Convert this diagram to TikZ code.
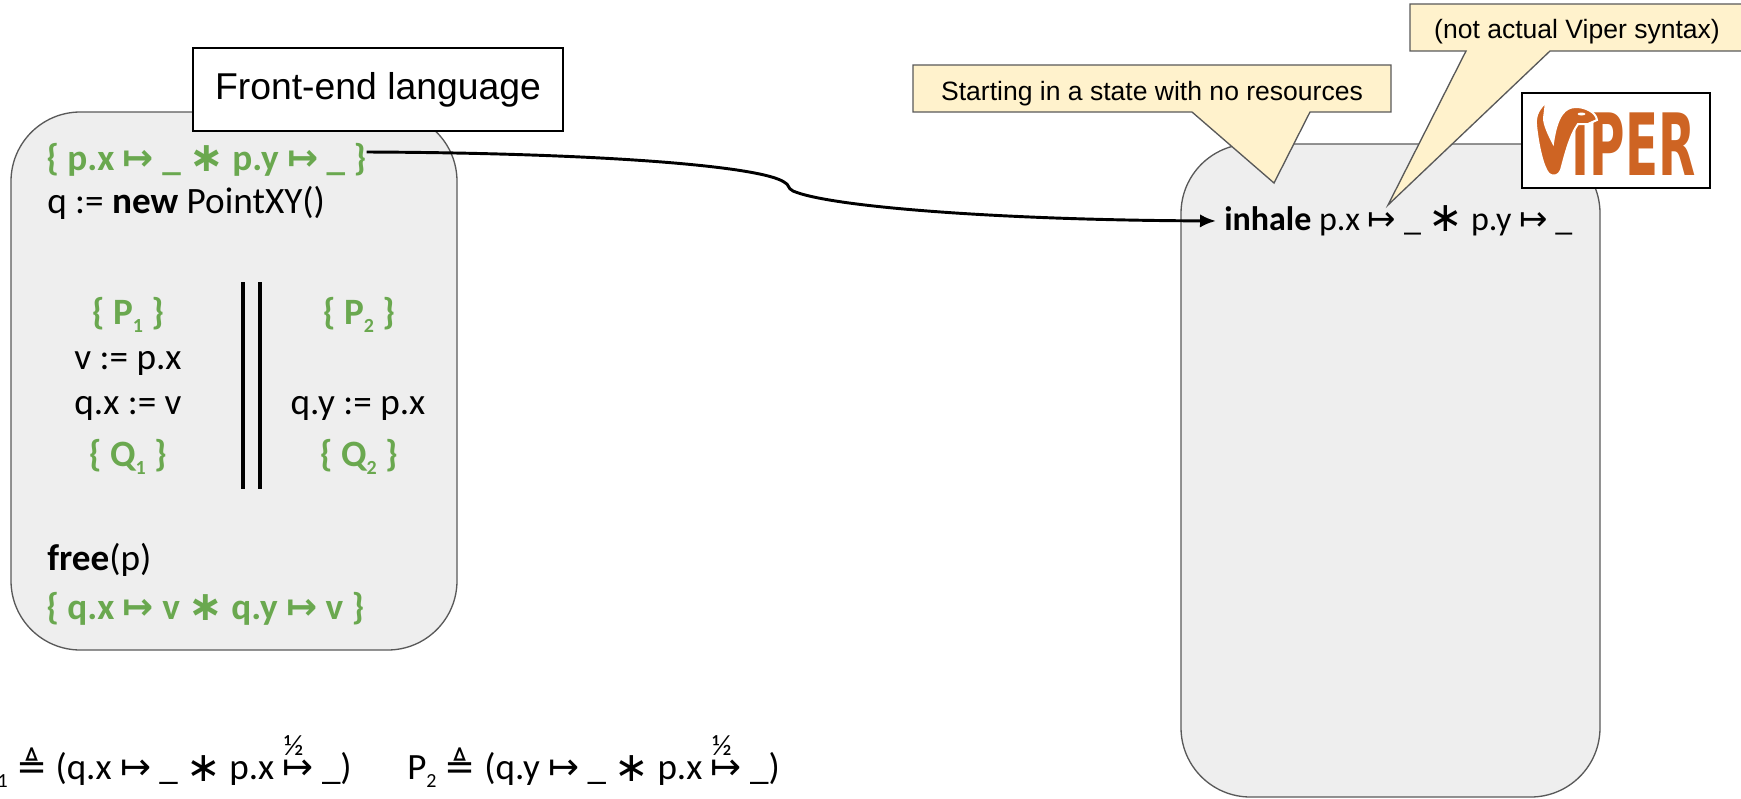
\documentclass[tikz,border=0pt]{standalone}
\usepackage{fontspec}
\usepackage{xcolor}
\usepackage{graphicx}
\usepackage{tikz}
\usetikzlibrary{
	arrows.meta,
	positioning
}
\setmainfont{Carlito}
\newfontfamily\slidefont{Liberation Sans}
\newfontfamily\symfont{DejaVu Sans}
\definecolor{BoxGray}{HTML}{EEEEEE}
\definecolor{BoxEdge}{HTML}{595959}
\definecolor{NoteFill}{HTML}{FFF2CC}
\definecolor{AssertGreen}{HTML}{6AA84F}
\definecolor{ViperOrange}{HTML}{CE6423}
\newcommand{\pto}{{\symfont ↦}}
\newcommand{\sep}{\raisebox{-1pt}{\symfont\fontsize{31}{31}\selectfont ∗}}
\newcommand{\low}[1]{\raisebox{-6pt}{\fontsize{15}{15}\selectfont #1}}
\newcommand{\halfpto}{\makebox[0pt][l]{\raisebox{18pt}{\hspace{1pt}\fontsize{22}{22}\selectfont ½}}\pto}
\tikzset{
	progbox/.style={fill=BoxGray, draw=BoxEdge, line width=1pt, rounded corners=52pt},
	labelbox/.style={fill=white, draw=black, line width=1pt},
	notebox/.style={fill=NoteFill, draw=BoxEdge, line width=1pt, line join=miter},
	code/.style={inner sep=0pt, font=\fontsize{27.9}{30}\selectfont},
	assert/.style={code, text=AssertGreen, font=\fontsize{27.9}{30}\selectfont\bfseries},
	note/.style={inner sep=0pt, font=\slidefont\fontsize{19.9}{22}\selectfont}
}
\begin{document}
\begin{tikzpicture}[x=0.75pt, y=-0.75pt]
	\useasboundingbox (0,0) rectangle (1741,799);
	% program boxes
	\draw[progbox] (11,112) rectangle (457,650);
	\draw[progbox] (1181,144) rectangle (1600,797);
	\node[labelbox, minimum width=277.5pt, minimum height=62pt, inner sep=0pt, font=\slidefont\fontsize{28}{30}\selectfont] (front) at (378,89.5) {\raisebox{-2pt}{Front-end language}};
	% callouts
	\draw[notebox] (913,65) -- (1391,65) -- (1391,112) -- (1310,112) -- (1274,183) -- (1192,112) -- (913,112) -- cycle;
	\node[note] (noresources) at (1152,94) {Starting in a state with no resources};
	\draw[notebox] (1410,4) -- (1760,4) -- (1760,51) -- (1550,51) -- (1388,205) -- (1466,51) -- (1410,51) -- cycle;
	\node[note] (syntax) at (1577,32) {(not actual Viper syntax)};
	% logo
	\node[labelbox, minimum width=141pt, minimum height=71pt, inner sep=0pt] (logo) at (1616,140.5) {};
	\node[inner sep=0pt, text=ViperOrange] (vipername) at (1615,144) {\resizebox{121pt}{47pt}{\symfont\bfseries{\color{white}V}IPER}};
	\filldraw[ViperOrange, draw=white, line width=1.5pt] (1546,102) .. controls (1540,108) and (1535,114) .. (1536,125) .. controls (1538,145) and (1543,168) .. (1549,174) .. controls (1553,177) and (1559,176) .. (1561,170) .. controls (1565,155) and (1570,135) .. (1578,124) -- (1588,124) -- (1597,120) .. controls (1596,112) and (1585,107) .. (1576,107) .. controls (1565,107) and (1557,115) .. (1553,143) .. controls (1549,135) and (1544,125) .. (1544,118) -- cycle;
	\fill[white] (1581.5,114) ellipse (4 and 1.5);
	% front-end program
	\node[assert, anchor=west] (pre) at (46,160) {\{ p.x \pto{} \_ \sep{} p.y \pto{} \_ \}};
	\node[code, anchor=west] (alloc) at (47,203) {q := \textbf{new} PointXY()};
	\node[assert] (pa) at (128,315) {\{ P\low{1} \}};
	\node[code] (reada) at (128,363) {v := p.x};
	\node[code] (writea) at (128,408) {q.x := v};
	\node[assert] (qa) at (128,457) {\{ Q\low{1} \}};
	\node[assert] (pb) at (359,315) {\{ P\low{2} \}};
	\node[code] (writeb) at (358,408) {q.y := p.x};
	\node[assert] (qb) at (359,457) {\{ Q\low{2} \}};
	\coordinate (LA) at (243,282);
	\coordinate (LB) at (243,489);
	\coordinate (RA) at (260,282);
	\coordinate (RB) at (260,489);
	\draw[line width=3pt] (LA)--(LB);
	\draw[line width=3pt] (RA)--(RB);
	\node[code, anchor=west] (release) at (47,560) {\textbf{free}(p)};
	\node[assert, anchor=west] (post) at (46,609) {\{ q.x \pto{} v \sep{} q.y \pto{} v \}};
	% back-end program
	\node[code, anchor=west, font=\fontsize{25.5}{30}\selectfont] (inhale) at (1224,221) {\textbf{inhale} p.x \pto{} \_ \sep{} p.y \pto{} \_};
	% definitions at the bottom
	\node[code, anchor=east, font=\fontsize{27.8}{30}\selectfont] (defa) at (352,762) {P\low{1} {\symfont ≜} (q.x \pto{} \_ \sep{} p.x \halfpto{} \_)};
	\node[code, anchor=west, font=\fontsize{27.8}{30}\selectfont] (defb) at (407,762) {P\low{2} {\symfont ≜} (q.y \pto{} \_ \sep{} p.x \halfpto{} \_)};
	% translation arrow
	\coordinate (preout) at ([yshift=6pt]pre.east);
	\coordinate (KA) at (784,182);
	\coordinate (KB) at (793,191);
	\draw[-{Latex[length=12pt,width=10pt]}, line width=2.2pt, shorten >=6pt] (preout) .. controls (600,153) and (760,166) .. (KA) .. controls (790,185) and (787,188) .. (KB) .. controls (830,207) and (1000,220) .. (inhale.west);
\end{tikzpicture}
\end{document}
